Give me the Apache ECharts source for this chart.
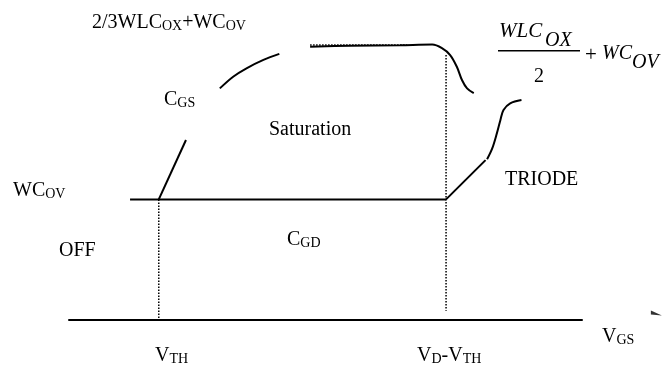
<!DOCTYPE html>
<html>
<head>
<meta charset="utf-8">
<script src="https://cdn.jsdelivr.net/npm/echarts@6/dist/echarts.min.js"></script>
<style>
  html, body { margin: 0; padding: 0; background: #fff; }
  #chart { width: 664px; height: 368px; }
</style>
</head>
<body>
<div id="chart"></div>
<script>
// MOSFET gate capacitance vs V_GS (schematic). x: V_GS, y: capacitance, arbitrary units.
const overlapLevel = [[1.19, 4.02], [7.35, 4.02]];   // C_GD = W*C_OV
const cgsRise = [[1.75, 4.02], [2.28, 6.0]];
const cgsArc = [[2.94, 7.72], [3.20, 8.11], [3.46, 8.39], [3.79, 8.67], [4.10, 8.87]];
const cgsPlateau = [[4.70, 9.11], [5.48, 9.14], [6.45, 9.16], [7.08, 9.18], [7.27, 9.06],
                    [7.43, 8.83], [7.56, 8.44], [7.66, 8.0], [7.76, 7.72], [7.89, 7.56]];
const plateauDots = [[4.70, 9.17], [6.59, 9.17]];
const triodeRise = [[7.35, 4.02], [8.12, 5.33]];
const triodeBend = [[8.15, 5.36], [8.25, 5.72], [8.34, 6.22], [8.41, 6.67], [8.47, 7.0],
                    [8.60, 7.22], [8.82, 7.33]];
const thresholdGuide = [[1.75, 4.02], [1.75, 0]];    // V_TH
const saturationGuide = [[7.35, 8.83], [7.35, 0.31]]; // V_D - V_TH
const arrowMark = [[11.45, 0.23]];

const SERIF = '"Liberation Serif", "Times New Roman", serif';

function solid(data, smooth) {
  return {
    type: 'line', data: data, smooth: smooth ? 0.35 : false,
    showSymbol: false, silent: true, clip: false,
    lineStyle: { color: '#000', width: 2 }
  };
}
function dotted(data) {
  return {
    type: 'line', data: data, showSymbol: false, silent: true, clip: false,
    lineStyle: { color: '#000', width: 1.5, type: [1.5, 1.5] }
  };
}

// rich-text label with subscripts: parts = [[text, isSub], ...]
function label(parts, x, y, size, subSize) {
  const text = parts.map(p => '{' + (p[1] ? 's' : 'm') + '|' + p[0] + '}').join('');
  return {
    type: 'text', silent: true,
    style: {
      x: x, y: y, text: text, align: 'left', verticalAlign: 'bottom',
      rich: {
        m: { fontFamily: SERIF, fontSize: size, lineHeight: size, fill: '#000', verticalAlign: 'bottom' },
        s: { fontFamily: SERIF, fontSize: subSize, lineHeight: subSize, fill: '#000', verticalAlign: 'bottom' }
      }
    }
  };
}
// plain text placed by its baseline (em box bottom sits ~0.22em below it)
function itext(t, x, baseline, size, italic) {
  return {
    type: 'text', silent: true,
    style: {
      x: x, y: baseline + Math.round(size * 0.22), text: t, align: 'left', verticalAlign: 'bottom',
      font: (italic ? 'italic ' : '') + size + 'px ' + SERIF, fill: '#000'
    }
  };
}

const chart = echarts.init(document.getElementById('chart'), null, { renderer: 'canvas' });
chart.setOption({
  animation: false,
  backgroundColor: '#fff',
  grid: { left: 69, right: 82, top: 20, bottom: 48 },
  xAxis: {
    type: 'value', min: 0, max: 10,
    axisLine: { show: true, lineStyle: { color: '#000', width: 2 } },
    axisTick: { show: false }, axisLabel: { show: false }, splitLine: { show: false }
  },
  yAxis: {
    type: 'value', min: 0, max: 10, show: false,
    splitLine: { show: false }
  },
  series: [
    solid(overlapLevel),
    solid(cgsRise),
    solid(cgsArc, true),
    solid(cgsPlateau, true),
    dotted(plateauDots),
    solid(triodeRise),
    solid(triodeBend, true),
    dotted(thresholdGuide),
    dotted(saturationGuide),
    {
      type: 'scatter', data: arrowMark, silent: true, clip: false,
      symbol: 'path://M0,0 L0,4 L11,5 Z', symbolSize: [11, 5],
      itemStyle: { color: '#000' }
    }
  ],
  graphic: [
    label([['2/3WLC'], ['OX', 1], ['+WC'], ['OV', 1]], 92, 33, 20, 14),
    label([['C'], ['GS', 1]], 164, 110, 20, 14),
    label([['Saturation']], 269, 140, 20, 14),
    label([['WC'], ['OV', 1]], 13, 201, 20, 14),
    label([['OFF']], 59, 261, 20, 14),
    label([['C'], ['GD', 1]], 287, 250, 20, 14),
    label([['TRIODE']], 505, 190, 20, 14),
    label([['V'], ['TH', 1]], 155, 366, 20, 14),
    label([['V'], ['D', 1], ['-V'], ['TH', 1]], 417, 366, 20, 14),
    label([['V'], ['GS', 1]], 602, 347, 20, 14),
    // (W L C_OX) / 2 + W C_OV
    itext('WLC', 499, 37, 21, true),
    itext('OX', 545, 47, 20, true),
    { type: 'line', silent: true, shape: { x1: 498, y1: 50.7, x2: 580, y2: 50.7 },
      style: { stroke: '#000', lineWidth: 1.5 } },
    itext('2', 534, 83, 20, false),
    itext('+', 585, 61, 21, false),
    itext('WC', 602, 60, 20, true),
    itext('OV', 632, 69, 20, true)
  ]
});
</script>
</body>
</html>
